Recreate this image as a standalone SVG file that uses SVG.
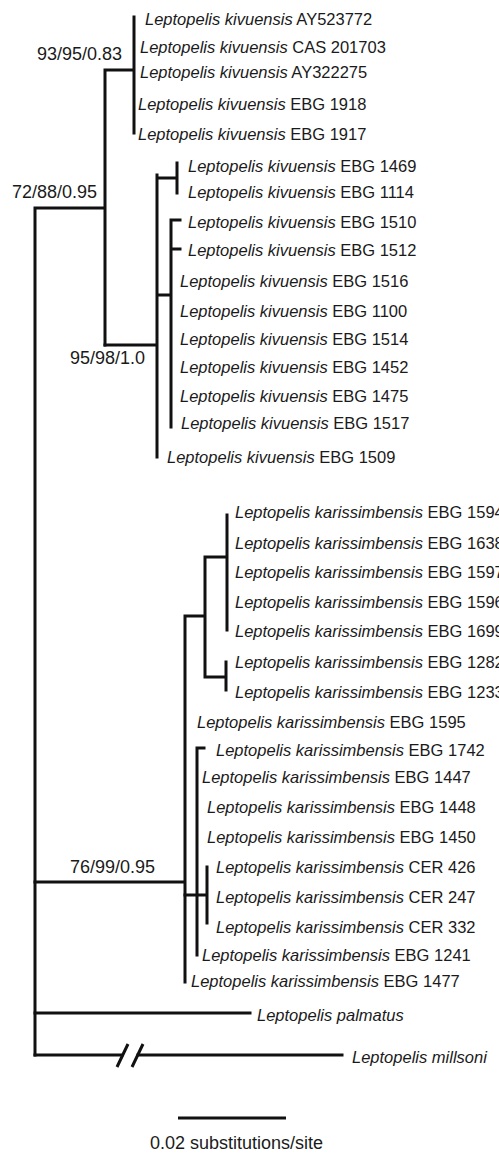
<svg xmlns="http://www.w3.org/2000/svg" width="499" height="1153" viewBox="0 0 499 1153">
<style>
.t{font-family:"Liberation Sans",Arial,sans-serif;font-size:16.5px;fill:#1a1a1a}
.i{font-style:italic}
.s{font-family:"Liberation Sans",Arial,sans-serif;font-size:18px;fill:#1a1a1a}
.b{stroke:#111;stroke-width:3;fill:none;stroke-linecap:square}
</style>
<rect width="499" height="1153" fill="#fff"/>
<g id="connectors" class="b">
<path d="M35,208V1055M35,208H105M105,70V345M105,70H134M134,17V133"/>
<path d="M105,345H157M157,175V457M157,178H177M177,163V193M157,295H171M171,220V427M171,220H180M171,249H180"/>
<path d="M35,882H185M185,616V982M185,616H205M205,557V677M205,557H227M227,515V630M205,677H226M226,662V690"/>
<path d="M185,895H207M197,748V955M197,748H204M207,867V923"/>
<path d="M35,1013H250M35,1055H122M138,1055H342"/>
<path d="M117,1067L128,1044M132,1067L143,1044" stroke-linecap="butt"/>
<path d="M178,1118H286" stroke-linecap="butt"/>
</g>
<g id="supports">
<text class="s" x="37" y="60">93/95/0.83</text>
<text class="s" x="12" y="198">72/88/0.95</text>
<text class="s" x="70" y="364">95/98/1.0</text>
<text class="s" x="70" y="873">76/99/0.95</text>
</g>
<g id="taxa" class="t">
<g id="n1"><text x="145" y="25"><tspan class="i">Leptopelis kivuensis</tspan> AY523772</text></g>
<g id="n2"><text x="140" y="53"><tspan class="i">Leptopelis kivuensis</tspan> CAS 201703</text></g>
<g id="n3"><text x="140" y="78"><tspan class="i">Leptopelis kivuensis</tspan> AY322275</text></g>
<g id="n4"><text x="138" y="110"><tspan class="i">Leptopelis kivuensis</tspan> EBG 1918</text></g>
<g id="n5"><text x="138" y="140"><tspan class="i">Leptopelis kivuensis</tspan> EBG 1917</text></g>
<g id="n6"><text x="188" y="172"><tspan class="i">Leptopelis kivuensis</tspan> EBG 1469</text></g>
<g id="n7"><text x="188" y="198"><tspan class="i">Leptopelis kivuensis</tspan> EBG 1114</text></g>
<g id="n8"><text x="188" y="228"><tspan class="i">Leptopelis kivuensis</tspan> EBG 1510</text></g>
<g id="n9"><text x="188" y="256"><tspan class="i">Leptopelis kivuensis</tspan> EBG 1512</text></g>
<g id="n10"><text x="180" y="287"><tspan class="i">Leptopelis kivuensis</tspan> EBG 1516</text></g>
<g id="n11"><text x="180" y="317"><tspan class="i">Leptopelis kivuensis</tspan> EBG 1100</text></g>
<g id="n12"><text x="180" y="345"><tspan class="i">Leptopelis kivuensis</tspan> EBG 1514</text></g>
<g id="n13"><text x="180" y="373"><tspan class="i">Leptopelis kivuensis</tspan> EBG 1452</text></g>
<g id="n14"><text x="180" y="402"><tspan class="i">Leptopelis kivuensis</tspan> EBG 1475</text></g>
<g id="n15"><text x="181" y="429"><tspan class="i">Leptopelis kivuensis</tspan> EBG 1517</text></g>
<g id="n16"><text x="167" y="463"><tspan class="i">Leptopelis kivuensis</tspan> EBG 1509</text></g>
<g id="n17"><text x="235" y="518"><tspan class="i">Leptopelis karissimbensis</tspan> EBG 1594</text></g>
<g id="n18"><text x="235" y="549"><tspan class="i">Leptopelis karissimbensis</tspan> EBG 1638</text></g>
<g id="n19"><text x="235" y="578"><tspan class="i">Leptopelis karissimbensis</tspan> EBG 1597</text></g>
<g id="n20"><text x="235" y="608"><tspan class="i">Leptopelis karissimbensis</tspan> EBG 1596</text></g>
<g id="n21"><text x="235" y="637"><tspan class="i">Leptopelis karissimbensis</tspan> EBG 1699</text></g>
<g id="n22"><text x="235" y="668"><tspan class="i">Leptopelis karissimbensis</tspan> EBG 1282</text></g>
<g id="n23"><text x="235" y="698"><tspan class="i">Leptopelis karissimbensis</tspan> EBG 1233</text></g>
<g id="n24"><text x="197" y="728"><tspan class="i">Leptopelis karissimbensis</tspan> EBG 1595</text></g>
<g id="n25"><text x="216" y="756"><tspan class="i">Leptopelis karissimbensis</tspan> EBG 1742</text></g>
<g id="n26"><text x="202" y="783"><tspan class="i">Leptopelis karissimbensis</tspan> EBG 1447</text></g>
<g id="n27"><text x="207" y="813"><tspan class="i">Leptopelis karissimbensis</tspan> EBG 1448</text></g>
<g id="n28"><text x="207" y="843"><tspan class="i">Leptopelis karissimbensis</tspan> EBG 1450</text></g>
<g id="n29"><text x="216" y="873"><tspan class="i">Leptopelis karissimbensis</tspan> CER 426</text></g>
<g id="n30"><text x="216" y="903"><tspan class="i">Leptopelis karissimbensis</tspan> CER 247</text></g>
<g id="n31"><text x="216" y="933"><tspan class="i">Leptopelis karissimbensis</tspan> CER 332</text></g>
<g id="n32"><text x="202" y="961"><tspan class="i">Leptopelis karissimbensis</tspan> EBG 1241</text></g>
<g id="n33"><text x="191" y="987"><tspan class="i">Leptopelis karissimbensis</tspan> EBG 1477</text></g>
<g id="n34"><text x="257" y="1021"><tspan class="i">Leptopelis palmatus</tspan></text></g>
<g id="n35"><text x="352" y="1063"><tspan class="i">Leptopelis millsoni</tspan></text></g>
</g>
<g id="scale">
<text class="s" x="150" y="1149">0.02 substitutions/site</text>
</g>
</svg>
